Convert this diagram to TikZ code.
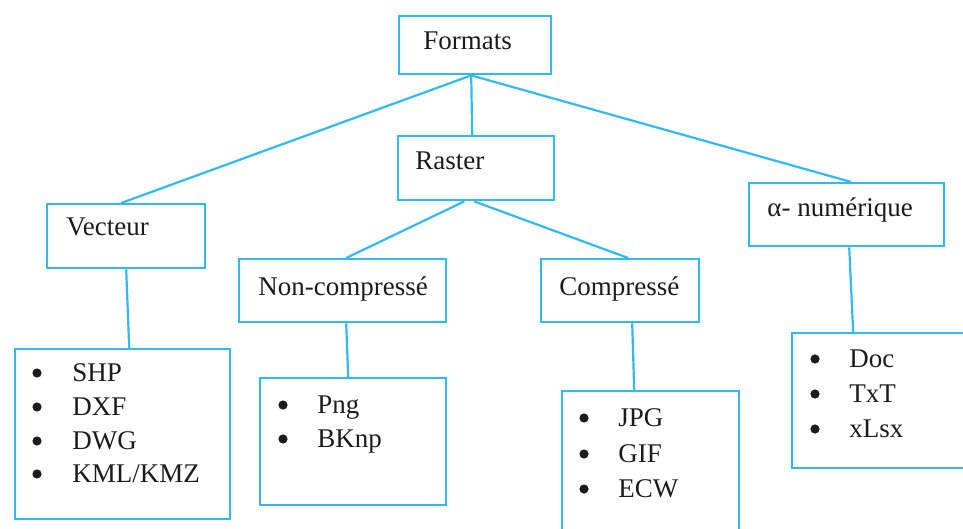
\documentclass[tikz,border=0pt]{standalone}
\usepackage{fontspec}
\setmainfont{Liberation Serif}
\newfontfamily\labelface{Liberation Serif}
\usetikzlibrary{calc}
\definecolor{linkblue}{HTML}{32B9F0}
\definecolor{inkgray}{HTML}{1C1C1C}
\tikzset{
  box/.style={draw=linkblue, line width=1.2pt, rectangle, anchor=north west, inner sep=0pt},
  link/.style={draw=linkblue, line width=1.1pt},
  lbl/.style={anchor=base west, inner sep=0pt, text=inkgray, font=\labelface\fontsize{13.5}{16}\selectfont},
  dot/.style={circle, fill=inkgray, draw=none, inner sep=0pt, minimum size=4.6pt}
}
\begin{document}
\begin{tikzpicture}[x=0.5pt, y=-0.5pt]
\useasboundingbox (0,0) rectangle (963,529);
\begin{scope}
\clip (0,0) rectangle (963,529);
% boxes
\node[box, minimum width=76pt, minimum height=29pt] (formats) at (398,15) {};
\node[box, minimum width=78pt, minimum height=32pt] (raster) at (397,135) {};
\node[box, minimum width=79pt, minimum height=32pt] (vecteur) at (46,203) {};
\node[box, minimum width=97.5pt, minimum height=31.5pt] (alpha) at (748,182) {};
\node[box, minimum width=103.5pt, minimum height=31.5pt] (noncomp) at (238,258) {};
\node[box, minimum width=79pt, minimum height=31.5pt] (comp) at (540,258) {};
\node[box, minimum width=107.5pt, minimum height=85pt] (vlist) at (14,348) {};
\node[box, minimum width=93pt, minimum height=63.5pt] (plist) at (259,377) {};
\node[box, minimum width=88.5pt, minimum height=80pt] (jlist) at (561,390) {};
\node[box, minimum width=92pt, minimum height=67.5pt] (dlist) at (791,332) {};
% connectors
\draw[link] ($(formats.south)+(-4,0)$) -- ($(vecteur.north)+(-5,0)$);
\draw[link] ($(formats.south)+(-4,0)$) -- ($(raster.north)+(-4,0)$);
\draw[link] ($(formats.south)+(-4,0)$) -- ($(alpha.north)+(4.5,0)$);
\draw[link] ($(raster.south)+(-12,0)$) -- ($(noncomp.north)+(3.5,0)$);
\draw[link] ($(raster.south)+(-2,0)$) -- ($(comp.north)+(8,0)$);
\draw[link] (vecteur.south) -- ($(vlist.north)+(6.5,0)$);
\draw[link] ($(noncomp.south)+(3.5,0)$) -- ($(plist.north)+(-5,0)$);
\draw[link] ($(comp.south)+(12,0)$) -- ($(jlist.north)+(-16.5,0)$);
\draw[link] ($(alpha.south)+(2.5,0)$) -- ($(dlist.north)+(-31,0)$);
% titles
\node[lbl] (tformats) at (423,50) {Formats};
\node[lbl] (traster) at (415,170) {Raster};
\node[lbl] (tvecteur) at (66,235) {Vecteur};
\node[lbl] (talpha) at (767,217) {α- numérique};
\node[lbl] (tnoncomp) at (258,295) {Non-compressé};
\node[lbl] (tcomp) at (559,295) {Compressé};
% vector formats
\node[dot] (v1b) at (37,373) {}; \node[lbl] (v1) at (72,381) {SHP};
\node[dot] (v2b) at (37,407) {}; \node[lbl] (v2) at (72,415) {DXF};
\node[dot] (v3b) at (37,441) {}; \node[lbl] (v3) at (72,449) {DWG};
\node[dot] (v4b) at (37,474) {}; \node[lbl] (v4) at (72,482) {KML/KMZ};
% uncompressed raster
\node[dot] (p1b) at (283,405) {}; \node[lbl] (p1) at (317,413) {Png};
\node[dot] (p2b) at (283,439) {}; \node[lbl] (p2) at (317,447) {BKnp};
% compressed raster
\node[dot] (j1b) at (584,418) {}; \node[lbl] (j1) at (618,426) {JPG};
\node[dot] (j2b) at (584,454) {}; \node[lbl] (j2) at (618,462) {GIF};
\node[dot] (j3b) at (584,489) {}; \node[lbl] (j3) at (618,497) {ECW};
% alphanumeric
\node[dot] (d1b) at (815,359) {}; \node[lbl] (d1) at (849,367) {Doc};
\node[dot] (d2b) at (815,394) {}; \node[lbl] (d2) at (849,402) {TxT};
\node[dot] (d3b) at (815,429) {}; \node[lbl] (d3) at (849,437) {xLsx};
\end{scope}
\end{tikzpicture}
\end{document}
